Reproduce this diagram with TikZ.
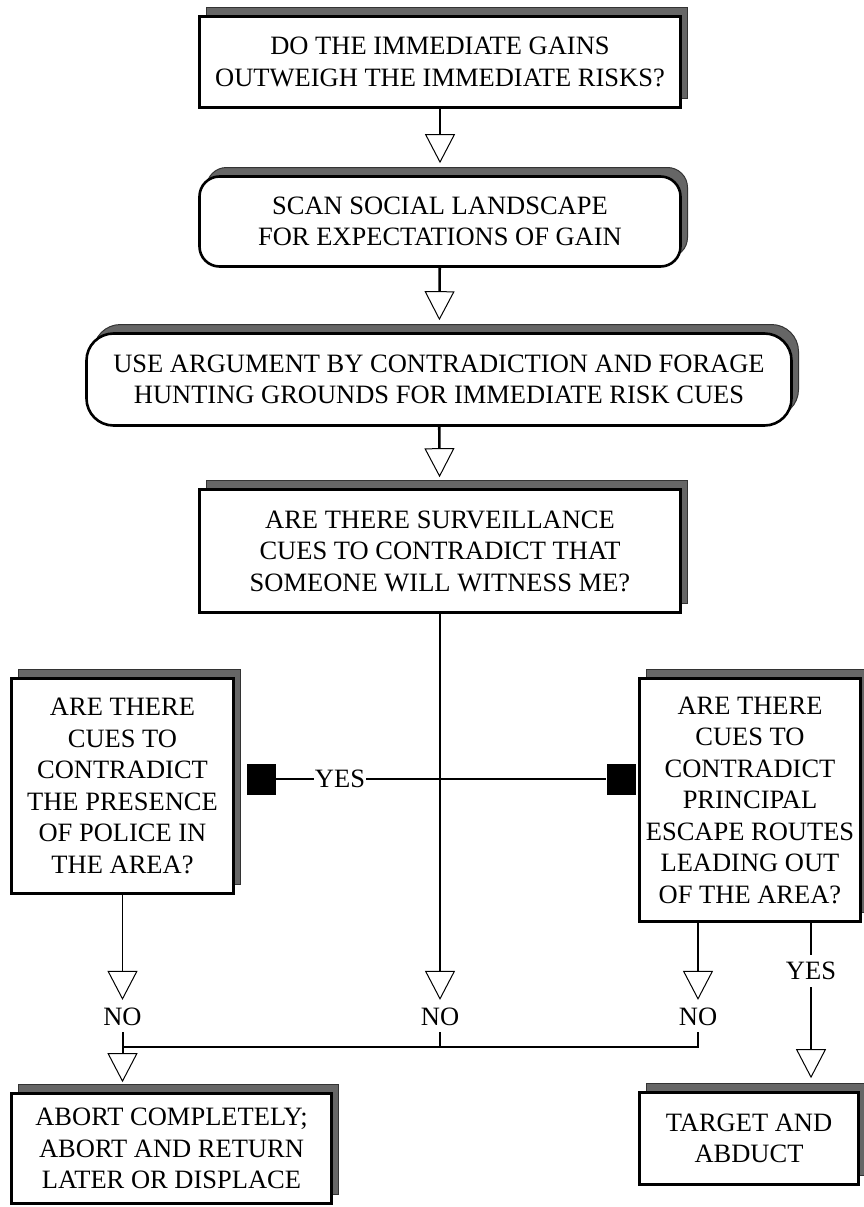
\documentclass[tikz,border=0pt]{standalone}
\usepackage{fontspec}
\setmainfont{Liberation Serif}
\usetikzlibrary{arrows.meta, shadows}
\definecolor{cshade}{HTML}{666666}
\tikzset{
  every picture/.style={x=1pt, y=1pt},
  sbox/.style={draw=black, fill=white, line width=2.6pt, align=center, inner sep=0pt,
    font=\fontsize{26.5}{31.5}\selectfont,
    drop shadow={shadow xshift=7pt, shadow yshift=9pt, fill=cshade, draw=black!80, line width=1pt, opacity=1}},
  rbox/.style={sbox, rounded corners=#1},
  lbl/.style={font=\fontsize{26.5}{30}\selectfont, inner sep=6pt},
  pad/.style={fill=black, inner sep=0pt, minimum width=29pt, minimum height=31pt},
  link/.style={line width=2pt},
  thinlink/.style={line width=1.4pt},
  flow/.style={-{Triangle[width=30pt, length=29pt, fill=white, line width=1pt]}},
}

\begin{document}
\begin{tikzpicture}
  \fill[white] (0,0) rectangle (863,-1207);
  \useasboundingbox (0,0) rectangle (863,-1207);
  % ---- main column ----
  \node[sbox, minimum width=481, minimum height=91] (q1) at (440,-62)
    {DO THE IMMEDIATE GAINS\\OUTWEIGH THE IMMEDIATE RISKS?};
  \node[rbox=20pt, minimum width=481, minimum height=90] (s2) at (440,-221.5)
    {SCAN SOCIAL LANDSCAPE\\FOR EXPECTATIONS OF GAIN};
  \node[rbox=27pt, minimum width=705, minimum height=92] (s3) at (439,-379.5)
    {USE ARGUMENT BY CONTRADICTION AND FORAGE\\HUNTING GROUNDS FOR IMMEDIATE RISK CUES};
  \node[sbox, minimum width=481, minimum height=123] (q4) at (440,-551)
    {ARE THERE SURVEILLANCE\\CUES TO CONTRADICT THAT\\SOMEONE WILL WITNESS ME?};
  \draw[line width=2.6pt, flow, shorten >=12pt] (q1) -- (s2);
  \draw[line width=2.6pt, flow, shorten >=12pt] (s2) -- (s3);
  \draw[line width=2.6pt, flow, shorten >=11pt] (s3) -- (q4);
  % ---- side questions ----
  \node[sbox, minimum width=222, minimum height=215] (police) at (122.5,-786)
    {ARE THERE\\CUES TO\\CONTRADICT\\THE PRESENCE\\OF POLICE IN\\THE AREA?};
  \node[sbox, minimum width=221, minimum height=243] (escape) at (750,-800)
    {ARE THERE\\CUES TO\\CONTRADICT\\PRINCIPAL\\ESCAPE ROUTES\\LEADING OUT\\OF THE AREA?};
  \node[pad] (padL) at (261.5,-779) {};
  \node[pad] (padR) at (621,-779) {};
  \node[lbl, inner sep=1pt] (yesM) at (340,-779) {YES};
  \draw[thinlink] (padL) -- (yesM) -- (padR);
  % ---- outcomes ----
  \node[lbl] (noL) at (122.5,-1017) {NO};
  \node[lbl] (noC) at (440,-1017) {NO};
  \node[lbl] (noR) at (698,-1017) {NO};
  \node[lbl, inner sep=7pt] (yesR) at (811,-971) {YES};
  \coordinate (joinL) at (122.5,-1047);
  \coordinate (joinR) at (698,-1047);
  \draw[thinlink, flow, shorten >=2pt] (police) -- (noL);
  \draw[link, flow, shorten >=2pt] (q4) -- (noC);
  \draw[link, flow, shorten >=2pt] (escape.south -| noR) -- (noR);
  \draw[link] (noL) -- (joinL) -- (joinR) -- (noR);
  \draw[link] (noC) -- (noC |- joinL);
  \node[sbox, minimum width=320, minimum height=110] (abort) at (171.5,-1148.5)
    {ABORT COMPLETELY;\\ABORT AND RETURN\\LATER OR DISPLACE};
  \node[sbox, minimum width=219, minimum height=92] (target) at (749,-1138.5)
    {TARGET AND\\ABDUCT};
  \draw[link, flow, shorten >=10pt] (joinL) -- (abort.north -| joinL);
  \draw[thinlink] (escape.south -| yesR) -- (yesR);
  \draw[thinlink, flow, shorten >=13pt] (yesR) -- (target.north -| yesR);
\end{tikzpicture}
\end{document}
